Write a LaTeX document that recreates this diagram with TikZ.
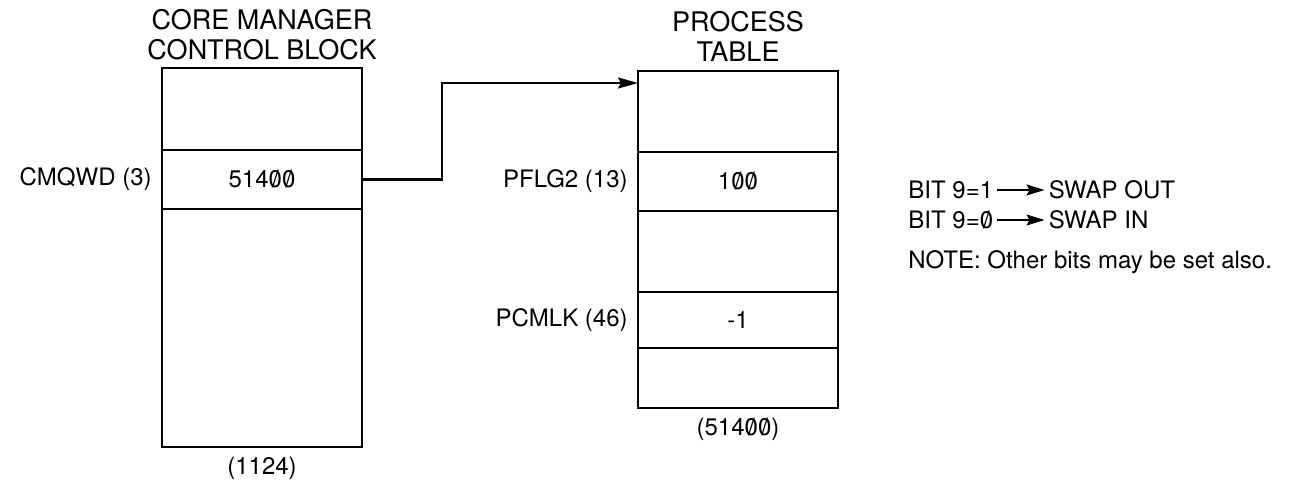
\documentclass[tikz,border=0pt]{standalone}
\usepackage{fontspec}
\setmainfont{TeX Gyre Heros}
\usetikzlibrary{positioning,arrows.meta,calc}
\newcommand\sz{\ooalign{0\cr\hidewidth/\hidewidth\cr}}
\tikzset{
  cell/.style={draw, line width=1.4pt, minimum width=100pt, inner sep=0pt,
    outer sep=0pt, font=\fontsize{12}{14}\selectfont},
  ttl/.style={align=center, inner sep=0pt, font=\fontsize{13.5}{15}\selectfont},
  lbl/.style={inner sep=0pt, font=\fontsize{12}{14}\selectfont},
  flow/.style={-{Stealth[length=10pt,width=5.5pt,inset=1.5pt]}, line width=1.2pt},
  bitarr/.style={-{Stealth[length=9pt,width=5.5pt,inset=1.5pt]}, line width=1pt},
}
\begin{document}
\begin{tikzpicture}[x=0.5pt,y=-0.5pt]
  \useasboundingbox (0,0) rectangle (1312,486);
  % core manager control block
  \node[cell, minimum height=41pt, anchor=north west] (cm1) at (162,68) {};
  \node[cell, minimum height=29.5pt, below=0pt of cm1] (cm2) {514\sz\sz};
  \node[cell, minimum height=119pt, below=0pt of cm2] (cm3) {};
  \node[ttl, above=4pt of cm1] (cmttl) {CORE MANAGER\\CONTROL BLOCK};
  \node[lbl, left=5pt of cm2] (cmqwd) {CMQWD (3)};
  \node[lbl, below=5pt of cm3] (cmadr) {(1124)};
  % process table
  \node[cell, minimum height=40.5pt, anchor=north west] (pt1) at (638,71) {};
  \node[cell, minimum height=29.5pt, below=0pt of pt1] (pt2) {1\sz\sz};
  \node[cell, minimum height=40.5pt, below=0pt of pt2] (pt3) {};
  \node[cell, minimum height=28pt, below=0pt of pt3] (pt4) {-1};
  \node[cell, minimum height=30pt, below=0pt of pt4] (pt5) {};
  \node[ttl, above=4.5pt of pt1] (ptttl) {PROCESS\\TABLE};
  \node[lbl, left=5pt of pt2] (pflg) {PFLG2 (13)};
  \node[lbl, left=5pt of pt4] (pcmlk) {PCMLK (46)};
  \node[lbl, below=5pt of pt5] (ptadr) {(514\sz\sz)};
  % pointer
  \coordinate (ptr) at ($(pt1.north west)+(0,-6pt)$);
  \draw[flow] (cm2.east) -- ++(40pt,0) |- (ptr);
  % bit 9 meaning
  \node[lbl, anchor=west] (bit1) at (908,190) {BIT 9=1};
  \node[lbl, right=27.5pt of bit1] (out) {SWAP OUT};
  \node[lbl, anchor=west] (bit0) at (908,220) {BIT 9=\sz};
  \node[lbl, anchor=west] (in) at (out.west |- bit0) {SWAP IN};
  \draw[bitarr] ([xshift=1.5pt]bit1.east) -- ([xshift=-2pt]out.west);
  \draw[bitarr] ([xshift=1.5pt]bit0.east) -- ([xshift=-2pt]in.west);
  \node[lbl, anchor=west] (note) at (908,262) {NOTE: Other bits may be set also.};
\end{tikzpicture}
\end{document}
